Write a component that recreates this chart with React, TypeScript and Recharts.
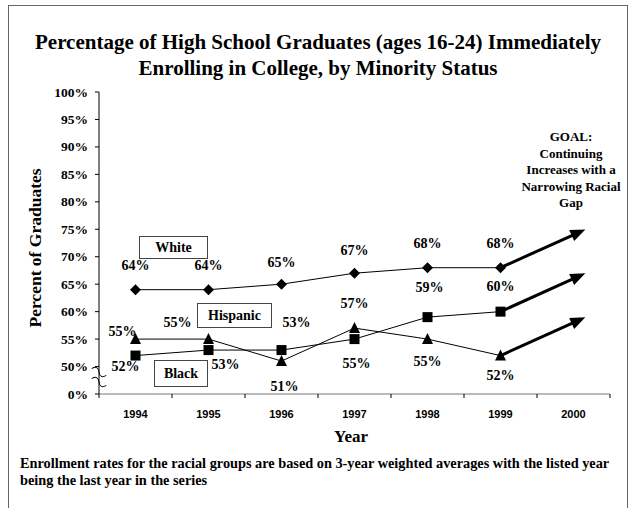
import React from "react";
import { LineChart, Line, XAxis, YAxis } from "recharts";

const SERIF = '"Liberation Serif", "Times New Roman", serif';
const SANS = '"Liberation Sans", Arial, sans-serif';

const years = ["1994", "1995", "1996", "1997", "1998", "1999", "2000"];
const whiteRates = [64, 64, 65, 67, 68, 68];
const hispanicRates = [52, 53, 53, 55, 59, 60];
const blackRates = [55, 55, 51, 57, 55, 52];
// arrow end points for 2000
const whiteGoal = 74;
const hispanicGoal = 66;
const blackGoal = 58;

// 45 sits where the broken axis shows 0%
const yTicks = [45, 50, 55, 60, 65, 70, 75, 80, 85, 90, 95, 100];
const yearIdx = years.map((_, i) => i);
const yearEdges = [...yearIdx.map((i) => i - 0.5), years.length - 0.5];

const lastActual = whiteRates.length - 1;

const data = years.map((year, i) => ({
  idx: i,
  year,
  white: whiteRates[i] ?? null,
  hispanic: hispanicRates[i] ?? null,
  black: blackRates[i] ?? null,
  whiteArrow: i === lastActual ? whiteRates[i] : i === lastActual + 1 ? whiteGoal : null,
  hispanicArrow: i === lastActual ? hispanicRates[i] : i === lastActual + 1 ? hispanicGoal : null,
  blackArrow: i === lastActual ? blackRates[i] : i === lastActual + 1 ? blackGoal : null,
}));

// where each value label sits relative to its marker
const whiteLabelPos = [[0, -24], [0, -24], [0, -22], [0, -23], [0, -24], [0, -24]];
const hispanicLabelPos = [[-10, 11], [17, 14], [15, -28], [2, 24], [2, -30], [0, -25]];
const blackLabelPos = [[-13, -8], [-31, -17], [3, 25], [0, -25], [0, 22], [0, 20]];

type Shape = "diamond" | "square" | "triangle";

function marker(shape: Shape, cx: number, cy: number) {
  if (shape === "diamond") {
    return <polygon points={`${cx},${cy - 5.5} ${cx + 5.5},${cy} ${cx},${cy + 5.5} ${cx - 5.5},${cy}`} fill="#000" />;
  }
  if (shape === "square") {
    return <rect x={cx - 5} y={cy - 5} width={10} height={10} fill="#000" />;
  }
  return <polygon points={`${cx},${cy - 6} ${cx + 5.5},${cy + 5} ${cx - 5.5},${cy + 5}`} fill="#000" />;
}

function makeDot(shape: Shape, labelPos: number[][]) {
  return (props: any) => {
    const { cx, cy, index, value } = props;
    if (cx == null || cy == null || value == null) return <g key={`${shape}-e-${index}`} />;
    const [dx, dy] = labelPos[index] ?? [0, -22];
    return (
      <g key={`${shape}-${index}`}>
        {marker(shape, cx, cy)}
        <text
          x={cx + dx}
          y={cy + dy}
          textAnchor="middle"
          dominantBaseline="central"
          fontFamily={SERIF}
          fontWeight="bold"
          fontSize={14}
          fill="#000"
        >
          {value}%
        </text>
      </g>
    );
  };
}

// arrowhead on the goal segment, pointing along the segment
function makeArrowDot(name: string) {
  let prev: { x: number; y: number } | null = null;
  return (props: any) => {
    const { cx, cy, index, value } = props;
    if (cx == null || cy == null || value == null) return <g key={`${name}-e-${index}`} />;
    if (index === lastActual || !prev) {
      prev = { x: cx, y: cy };
      return <g key={`${name}-${index}`} />;
    }
    const dx = cx - prev.x;
    const dy = cy - prev.y;
    const len = Math.hypot(dx, dy) || 1;
    const ux = dx / len;
    const uy = dy / len;
    const tipX = cx + ux * 13;
    const tipY = cy + uy * 13;
    const bx = tipX - ux * 15;
    const by = tipY - uy * 15;
    const nx = -uy * 6;
    const ny = ux * 6;
    return (
      <polygon
        key={`${name}-${index}`}
        points={`${tipX},${tipY} ${bx + nx},${by + ny} ${bx - nx},${by - ny}`}
        fill="#000"
      />
    );
  };
}

function YTick(props: any) {
  const { x, y, payload } = props;
  const v = payload.value as number;
  const axisX = x + 11;
  return (
    <g>
      <text
        x={x}
        y={y}
        textAnchor="end"
        dominantBaseline="central"
        fontFamily={SERIF}
        fontWeight="bold"
        fontSize={13.5}
        fill="#000"
      >
        {v === 45 ? "0%" : `${v}%`}
      </text>
      {v === 45 &&
        [22, 12].map((off) => (
          <path
            key={off}
            d={`M ${axisX - 8} ${y - off} q 4 -6 8 0 t 8 0`}
            transform={`rotate(25 ${axisX} ${y - off})`}
            fill="none"
            stroke="#000"
            strokeWidth={1}
          />
        ))}
    </g>
  );
}

function XTick(props: any) {
  const { x, y, payload } = props;
  return (
    <text
      x={x}
      y={y + 19}
      textAnchor="middle"
      dominantBaseline="central"
      fontFamily={SANS}
      fontWeight="bold"
      fontSize={11}
      fill="#000"
    >
      {years[payload.value]}
    </text>
  );
}

const boxStyle: React.CSSProperties = {
  position: "absolute",
  border: "1px solid #444",
  background: "#fff",
  boxSizing: "border-box",
  display: "flex",
  alignItems: "center",
  justifyContent: "center",
  fontFamily: SERIF,
  fontWeight: "bold",
  fontSize: 14,
};

export default function App() {
  return (
    <div
      style={{
        position: "absolute",
        left: 0,
        top: 0,
        width: 634,
        height: 508,
        background: "#fff",
        overflow: "hidden",
        color: "#000",
      }}
    >
      <div
        style={{
          position: "absolute",
          left: 8,
          top: 5,
          width: 620,
          height: 520,
          border: "1px solid #666",
          boxSizing: "border-box",
        }}
      />

      <LineChart
        width={634}
        height={508}
        data={data}
        margin={{ top: 92, right: 24, bottom: 83, left: 39 }}
        style={{ position: "absolute", left: 0, top: 0 }}
      >
        <XAxis
          xAxisId="edges"
          type="number"
          dataKey="idx"
          domain={[-0.5, years.length - 0.5]}
          ticks={yearEdges}
          interval={0}
          allowDataOverflow
          height={1}
          tickSize={4}
          tick={() => <g />}
          axisLine={{ stroke: "#777" }}
          tickLine={{ stroke: "#000" }}
        />
        <XAxis
          xAxisId="years"
          type="number"
          dataKey="idx"
          domain={[-0.5, years.length - 0.5]}
          ticks={yearIdx}
          interval={0}
          allowDataOverflow
          height={30}
          tickSize={0}
          tickMargin={0}
          axisLine={false}
          tickLine={false}
          tick={<XTick />}
        />
        <YAxis
          type="number"
          domain={[45, 100]}
          ticks={yTicks}
          interval={0}
          allowDataOverflow
          width={60}
          tickSize={4}
          tickMargin={7}
          axisLine={{ stroke: "#000" }}
          tickLine={{ stroke: "#000" }}
          tick={<YTick />}
        />

        <Line xAxisId="years" dataKey="black" stroke="#000" strokeWidth={1} dot={makeDot("triangle", blackLabelPos)} activeDot={false} isAnimationActive={false} />
        <Line xAxisId="years" dataKey="hispanic" stroke="#000" strokeWidth={1} dot={makeDot("square", hispanicLabelPos)} activeDot={false} isAnimationActive={false} />
        <Line xAxisId="years" dataKey="white" stroke="#000" strokeWidth={1} dot={makeDot("diamond", whiteLabelPos)} activeDot={false} isAnimationActive={false} />

        <Line xAxisId="years" dataKey="whiteArrow" stroke="#000" strokeWidth={3} dot={makeArrowDot("wa")} activeDot={false} isAnimationActive={false} />
        <Line xAxisId="years" dataKey="hispanicArrow" stroke="#000" strokeWidth={3} dot={makeArrowDot("ha")} activeDot={false} isAnimationActive={false} />
        <Line xAxisId="years" dataKey="blackArrow" stroke="#000" strokeWidth={3} dot={makeArrowDot("ba")} activeDot={false} isAnimationActive={false} />
      </LineChart>

      <div
        style={{
          position: "absolute",
          left: 0,
          top: 29,
          width: 636,
          textAlign: "center",
          fontFamily: SERIF,
          fontWeight: "bold",
          fontSize: 21,
          lineHeight: "26px",
        }}
      >
        Percentage of High School Graduates (ages 16-24) Immediately
        <br />
        Enrolling in College, by Minority Status
      </div>

      <div
        style={{
          position: "absolute",
          left: 35,
          top: 248,
          transform: "translate(-50%, -50%) rotate(-90deg)",
          whiteSpace: "nowrap",
          fontFamily: SERIF,
          fontWeight: "bold",
          fontSize: 17.5,
        }}
      >
        Percent of Graduates
      </div>

      <div
        style={{
          position: "absolute",
          left: 351,
          top: 437,
          transform: "translate(-50%, -50%)",
          fontFamily: SERIF,
          fontWeight: "bold",
          fontSize: 17,
        }}
      >
        Year
      </div>

      <div
        style={{
          position: "absolute",
          left: 571,
          top: 129,
          transform: "translateX(-50%)",
          textAlign: "center",
          whiteSpace: "nowrap",
          fontFamily: SERIF,
          fontWeight: "bold",
          fontSize: 13,
          lineHeight: "16.5px",
        }}
      >
        GOAL:
        <br />
        Continuing
        <br />
        Increases with a
        <br />
        Narrowing Racial
        <br />
        Gap
      </div>

      <div style={{ ...boxStyle, left: 139, top: 236, width: 69, height: 23 }}>White</div>
      <div style={{ ...boxStyle, left: 197, top: 303, width: 75, height: 25 }}>Hispanic</div>
      <div style={{ ...boxStyle, left: 154, top: 360, width: 54, height: 27 }}>Black</div>

      <div
        style={{
          position: "absolute",
          left: 20,
          top: 455,
          whiteSpace: "nowrap",
          fontFamily: SERIF,
          fontWeight: "bold",
          fontSize: 14.3,
          lineHeight: "17px",
        }}
      >
        Enrollment rates for the racial groups are based on 3-year weighted averages with the listed year
        <br />
        being the last year in the series
      </div>
    </div>
  );
}
